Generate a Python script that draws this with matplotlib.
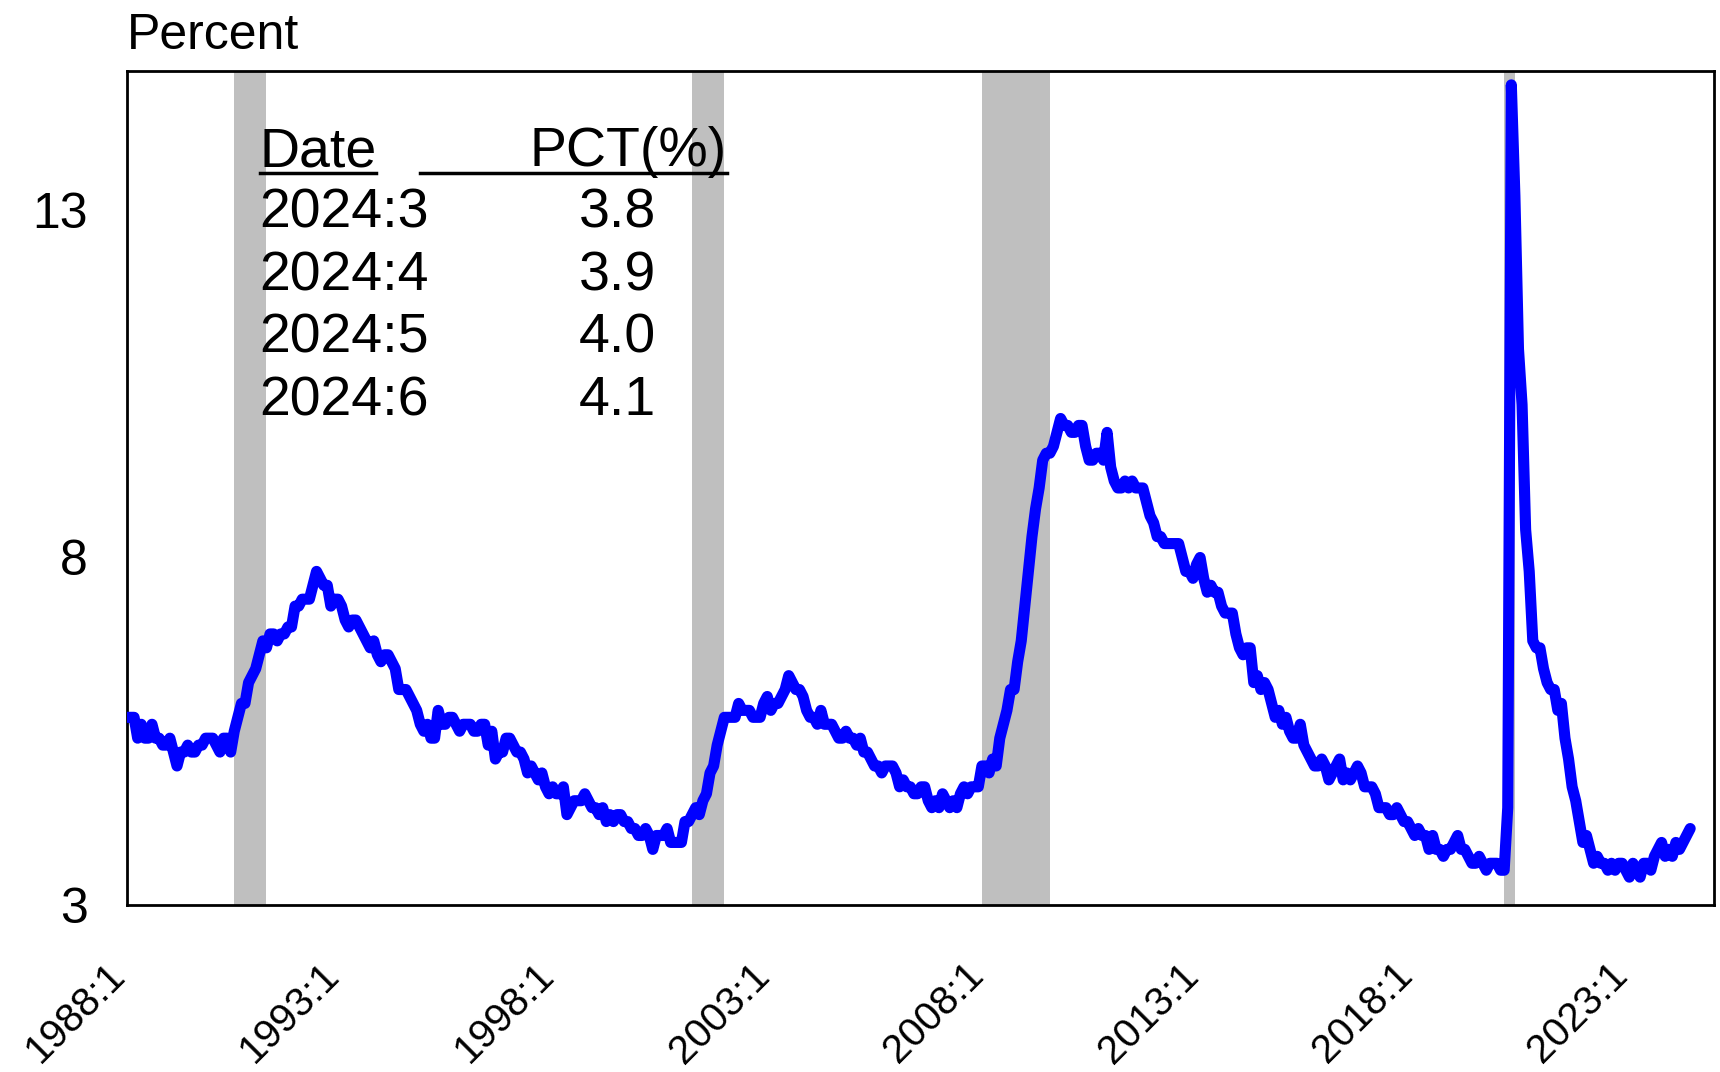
#!/usr/bin/env python3
import numpy as np
import matplotlib.pyplot as plt

plt.rcParams['font.family'] = ['Liberation Sans', 'DejaVu Sans']

start_year = 1988

# monthly unemployment rate, one row per year, 1988:1 - 2024:6
unrate = [
    5.7, 5.7, 5.7, 5.4, 5.6, 5.4, 5.4, 5.6, 5.4, 5.4, 5.3, 5.3,
    5.4, 5.2, 5.0, 5.2, 5.2, 5.3, 5.2, 5.2, 5.3, 5.3, 5.4, 5.4,
    5.4, 5.3, 5.2, 5.4, 5.4, 5.2, 5.5, 5.7, 5.9, 5.9, 6.2, 6.3,
    6.4, 6.6, 6.8, 6.7, 6.9, 6.9, 6.8, 6.9, 6.9, 7.0, 7.0, 7.3,
    7.3, 7.4, 7.4, 7.4, 7.6, 7.8, 7.7, 7.6, 7.6, 7.3, 7.4, 7.4,
    7.3, 7.1, 7.0, 7.1, 7.1, 7.0, 6.9, 6.8, 6.7, 6.8, 6.6, 6.5,
    6.6, 6.6, 6.5, 6.4, 6.1, 6.1, 6.1, 6.0, 5.9, 5.8, 5.6, 5.5,
    5.6, 5.4, 5.4, 5.8, 5.6, 5.6, 5.7, 5.7, 5.6, 5.5, 5.6, 5.6,
    5.6, 5.5, 5.5, 5.6, 5.6, 5.3, 5.5, 5.1, 5.2, 5.2, 5.4, 5.4,
    5.3, 5.2, 5.2, 5.1, 4.9, 5.0, 4.9, 4.8, 4.9, 4.7, 4.6, 4.7,
    4.6, 4.6, 4.7, 4.3, 4.4, 4.5, 4.5, 4.5, 4.6, 4.5, 4.4, 4.4,
    4.3, 4.4, 4.2, 4.3, 4.2, 4.3, 4.3, 4.2, 4.2, 4.1, 4.1, 4.0,
    4.0, 4.1, 4.0, 3.8, 4.0, 4.0, 4.0, 4.1, 3.9, 3.9, 3.9, 3.9,
    4.2, 4.2, 4.3, 4.4, 4.3, 4.5, 4.6, 4.9, 5.0, 5.3, 5.5, 5.7,
    5.7, 5.7, 5.7, 5.9, 5.8, 5.8, 5.8, 5.7, 5.7, 5.7, 5.9, 6.0,
    5.8, 5.9, 5.9, 6.0, 6.1, 6.3, 6.2, 6.1, 6.1, 6.0, 5.8, 5.7,
    5.7, 5.6, 5.8, 5.6, 5.6, 5.6, 5.5, 5.4, 5.4, 5.5, 5.4, 5.4,
    5.3, 5.4, 5.2, 5.2, 5.1, 5.0, 5.0, 4.9, 5.0, 5.0, 5.0, 4.9,
    4.7, 4.8, 4.7, 4.7, 4.6, 4.6, 4.7, 4.7, 4.5, 4.4, 4.5, 4.4,
    4.6, 4.5, 4.4, 4.5, 4.4, 4.6, 4.7, 4.6, 4.7, 4.7, 4.7, 5.0,
    5.0, 4.9, 5.1, 5.0, 5.4, 5.6, 5.8, 6.1, 6.1, 6.5, 6.8, 7.3,
    7.8, 8.3, 8.7, 9.0, 9.4, 9.5, 9.5, 9.6, 9.8, 10.0, 9.9, 9.9,
    9.8, 9.8, 9.9, 9.9, 9.6, 9.4, 9.4, 9.5, 9.5, 9.4, 9.8, 9.3,
    9.1, 9.0, 9.0, 9.1, 9.0, 9.1, 9.0, 9.0, 9.0, 8.8, 8.6, 8.5,
    8.3, 8.3, 8.2, 8.2, 8.2, 8.2, 8.2, 8.0, 7.8, 7.8, 7.7, 7.9,
    8.0, 7.7, 7.5, 7.6, 7.5, 7.5, 7.3, 7.2, 7.2, 7.2, 6.9, 6.7,
    6.6, 6.7, 6.7, 6.2, 6.3, 6.1, 6.2, 6.1, 5.9, 5.7, 5.8, 5.6,
    5.7, 5.5, 5.4, 5.4, 5.6, 5.3, 5.2, 5.1, 5.0, 5.0, 5.1, 5.0,
    4.8, 4.9, 5.0, 5.1, 4.8, 4.9, 4.8, 4.9, 5.0, 4.9, 4.7, 4.7,
    4.7, 4.6, 4.4, 4.4, 4.4, 4.3, 4.3, 4.4, 4.3, 4.2, 4.2, 4.1,
    4.0, 4.1, 4.0, 4.0, 3.8, 4.0, 3.8, 3.8, 3.7, 3.8, 3.8, 3.9,
    4.0, 3.8, 3.8, 3.7, 3.6, 3.6, 3.7, 3.6, 3.5, 3.6, 3.6, 3.6,
    3.5, 3.5, 4.4, 14.8, 13.2, 11.0, 10.2, 8.4, 7.8, 6.8, 6.7, 6.7,
    6.4, 6.2, 6.1, 6.1, 5.8, 5.9, 5.4, 5.1, 4.7, 4.5, 4.2, 3.9,
    4.0, 3.8, 3.6, 3.7, 3.6, 3.6, 3.5, 3.6, 3.5, 3.6, 3.6, 3.5,
    3.4, 3.6, 3.5, 3.4, 3.6, 3.6, 3.5, 3.7, 3.8, 3.9, 3.7, 3.8,
    3.7, 3.9, 3.8, 3.9, 4.0, 4.1,
]

recessions = [("1990:7", "1991:3"), ("2001:3", "2001:11"),
              ("2007:12", "2009:6"), ("2020:2", "2020:4")]

xtick_labels = ["1988:1", "1993:1", "1998:1", "2003:1",
                "2008:1", "2013:1", "2018:1", "2023:1"]
yticks = [3, 8, 13]

table_dates = ["2024:3", "2024:4", "2024:5", "2024:6"]
table_values = ["3.8", "3.9", "4.0", "4.1"]


def month_index(s):
    y, m = s.split(":")
    return (int(y) - start_year) * 12 + int(m) - 1


def main():
    fig = plt.figure(figsize=(17.2, 10.72), dpi=100)
    ax = fig.add_axes([0.0738, 0.1558, 0.9228, 0.778])

    t = np.arange(len(unrate))
    for a, b in recessions:
        ax.axvspan(month_index(a), month_index(b) + 1, color="#bfbfbf", lw=0, zorder=1)
    ax.plot(t, unrate, color="#0000ff", linewidth=8, solid_joinstyle="round",
            solid_capstyle="round", zorder=3)

    ax.set_xlim(0.9, 443.7)
    ax.set_ylim(3, 15)
    ax.set_yticks(yticks)
    ax.set_yticklabels([str(v) for v in yticks], fontsize=36)
    ax.set_xticks([month_index(s) for s in xtick_labels])
    ax.set_xticklabels(xtick_labels, fontsize=29, rotation=45, ha="right",
                       va="baseline", rotation_mode="anchor")
    ax.tick_params(axis="y", length=0, pad=28)
    ax.tick_params(axis="x", length=0, pad=52)
    for sp in ax.spines.values():
        sp.set_linewidth(2)

    ax.text(0.0, 1.026, "Percent", transform=ax.transAxes, fontsize=36,
            ha="left", va="baseline")

    #================ table ================#
    ax.text(0.0836, 0.8855, "Date", transform=ax.transAxes, fontsize=40,
            ha="left", va="baseline")
    ax.text(0.378, 0.8855, "PCT(%)", transform=ax.transAxes, fontsize=40,
            ha="right", va="baseline")
    ax.plot([0.0836, 0.1569], [0.878, 0.878], transform=ax.transAxes,
            color="black", lw=2.5, clip_on=False)
    ax.plot([0.1845, 0.378], [0.878, 0.878], transform=ax.transAxes,
            color="black", lw=2.5, clip_on=False)
    for i, (d, v) in enumerate(zip(table_dates, table_values)):
        yy = 0.812 - i * 0.075
        ax.text(0.0836, yy, d, transform=ax.transAxes, fontsize=40,
                ha="left", va="baseline")
        ax.text(0.309, yy, v, transform=ax.transAxes, fontsize=40,
                ha="center", va="baseline")

    plt.savefig("out.png", dpi=100)


if __name__ == "__main__":
    main()
